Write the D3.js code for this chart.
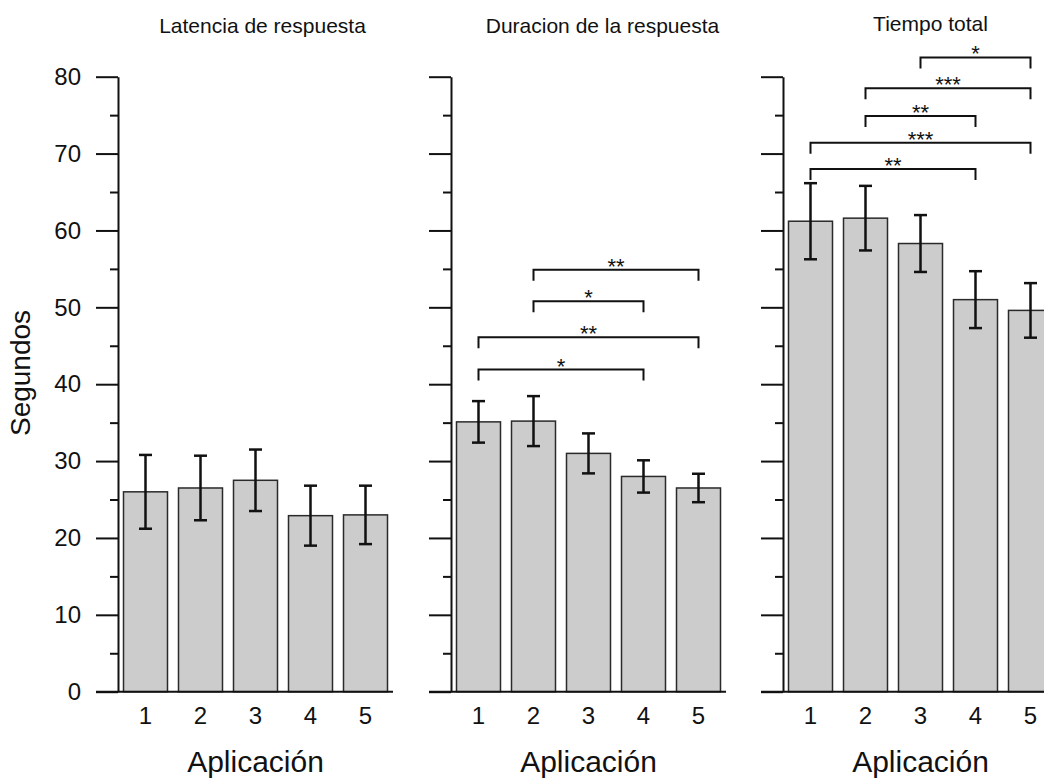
<!DOCTYPE html>
<html>
<head>
<meta charset="utf-8">
<script src="https://cdn.jsdelivr.net/npm/d3@7"></script>
<style>
	body { margin: 0; background: #fff; }
	svg { font-family: "Liberation Sans", Arial, sans-serif; }
</style>
</head>
<body>
<div id="chart"></div>
<script>
'use strict';

// Data
var categories = ["1", "2", "3", "4", "5"];
var yTicks = [0, 10, 20, 30, 40, 50, 60, 70, 80];
var yMinorTicks = [5, 15, 25, 35, 45, 55, 65, 75];

var titles = ["Latencia de respuesta", "Duracion de la respuesta", "Tiempo total"];

var latenciaMean = [26.0, 26.5, 27.5, 22.9, 23.0];
var latenciaErr = [4.8, 4.2, 4.0, 3.9, 3.8];

var duracionMean = [35.1, 35.2, 31.0, 28.0, 26.5];
var duracionErr = [2.7, 3.25, 2.6, 2.1, 1.85];

var totalMean = [61.2, 61.6, 58.3, 51.0, 49.6];
var totalErr = [4.95, 4.2, 3.7, 3.7, 3.55];

// significance brackets: [from, to, level, label]
var latenciaSig = [];
var duracionSig = [
	["2", "5", 54.9, "**"],
	["2", "4", 50.8, "*"],
	["1", "5", 46.1, "**"],
	["1", "4", 41.9, "*"]
];
var totalSig = [
	["3", "5", 82.5, "*"],
	["2", "5", 78.5, "***"],
	["2", "4", 74.9, "**"],
	["1", "5", 71.4, "***"],
	["1", "4", 68.0, "**"]
];

var panels = [
	{ mean: latenciaMean, err: latenciaErr, sig: latenciaSig },
	{ mean: duracionMean, err: duracionErr, sig: duracionSig },
	{ mean: totalMean, err: totalErr, sig: totalSig }
];

// Layout
var width = 1044;
var height = 778;
var panelLeft = [118, 451, 783];
var panelWidth = 275;
var titleShift = [7, 14, 10];
var titleY = [33, 33, 31];

var y = d3.scaleLinear()
	.domain([0, 80])
	.range([691.7, 76.7]);

var svg = d3.select("#chart")
	.append("svg")
	.attr("width", width)
	.attr("height", height);

// y axis label
svg.append("text")
	.attr("transform", "translate(30," + 373 + ") rotate(-90)")
	.attr("text-anchor", "middle")
	.style("font-size", "28px")
	.style("fill", "#111")
	.text("Segundos");

panels.forEach(function (p, k) {

	var x = d3.scaleBand()
		.domain(categories)
		.range([0, panelWidth])
		.paddingInner(0.2)
		.paddingOuter(0.1);

	var g = svg.append("g")
		.attr("transform", "translate(" + panelLeft[k] + ",0)");

	// title
	g.append("text")
		.attr("x", panelWidth / 2 + titleShift[k])
		.attr("y", titleY[k])
		.attr("text-anchor", "middle")
		.style("font-size", "21px")
		.style("fill", "#111")
		.text(titles[k]);

	// bars
	g.selectAll("rect.bar")
		.data(categories)
		.enter()
		.append("rect")
		.attr("class", "bar")
		.attr("x", function (d) { return x(d); })
		.attr("width", x.bandwidth())
		.attr("y", function (d, i) { return y(p.mean[i]); })
		.attr("height", function (d, i) { return y(0) - y(p.mean[i]); })
		.style("fill", "#cccccc")
		.style("stroke", "#2a2a2a")
		.style("stroke-width", 1.5);

	// error bars
	var eb = g.selectAll("g.err")
		.data(categories)
		.enter()
		.append("g")
		.attr("class", "err")
		.attr("transform", function (d) { return "translate(" + (x(d) + x.bandwidth() / 2) + ",0)"; })
		.style("stroke", "#111")
		.style("stroke-width", 2.5);

	eb.append("line")
		.attr("y1", function (d, i) { return y(p.mean[i] - p.err[i]); })
		.attr("y2", function (d, i) { return y(p.mean[i] + p.err[i]); });
	eb.append("line")
		.attr("x1", -6.5).attr("x2", 6.5)
		.attr("y1", function (d, i) { return y(p.mean[i] + p.err[i]); })
		.attr("y2", function (d, i) { return y(p.mean[i] + p.err[i]); });
	eb.append("line")
		.attr("x1", -6.5).attr("x2", 6.5)
		.attr("y1", function (d, i) { return y(p.mean[i] - p.err[i]); })
		.attr("y2", function (d, i) { return y(p.mean[i] - p.err[i]); });

	// y axis, major and minor ticks
	var yAxis = d3.axisLeft(y)
		.tickValues(yTicks)
		.tickSize(22)
		.tickSizeOuter(0)
		.tickPadding(15)
		.tickFormat(k === 0 ? d3.format("d") : "");

	var ya = g.append("g").call(yAxis);
	ya.selectAll("text").style("font-size", "24px").style("fill", "#111");
	ya.selectAll("line, path").style("stroke", "#111").style("stroke-width", 2);

	var ym = g.append("g").call(d3.axisLeft(y).tickValues(yMinorTicks).tickSize(8).tickFormat(""));
	ym.select(".domain").remove();
	ym.selectAll("line").style("stroke", "#111").style("stroke-width", 2);

	// x axis
	var xa = g.append("g")
		.attr("transform", "translate(0," + y(0) + ")")
		.call(d3.axisBottom(x).tickSize(0).tickPadding(15));
	xa.select(".domain").remove();
	xa.selectAll("text").style("font-size", "24px").style("fill", "#111");

	g.append("line")
		.attr("x1", -22)
		.attr("x2", panelWidth)
		.attr("y1", y(0))
		.attr("y2", y(0))
		.style("stroke", "#111")
		.style("stroke-width", 2);

	g.append("text")
		.attr("x", panelWidth / 2)
		.attr("y", 771.5)
		.attr("text-anchor", "middle")
		.style("font-size", "30px")
		.style("fill", "#111")
		.text("Aplicación");

	// significance brackets
	var cx = function (c) { return x(c) + x.bandwidth() / 2; };
	var br = g.selectAll("g.sig")
		.data(p.sig)
		.enter()
		.append("g")
		.attr("class", "sig");

	br.append("path")
		.attr("d", function (s) {
			var ly = y(s[2]);
			return "M" + cx(s[0]) + "," + (ly + 11) + "V" + ly + "H" + cx(s[1]) + "V" + (ly + 11);
		})
		.style("fill", "none")
		.style("stroke", "#111")
		.style("stroke-width", 2);

	br.append("text")
		.attr("x", function (s) { return (cx(s[0]) + cx(s[1])) / 2; })
		.attr("y", function (s) { return y(s[2]) + 4; })
		.attr("text-anchor", "middle")
		.style("font-size", "22px")
		.style("fill", "#111")
		.text(function (s) { return s[3]; });
});
</script>
</body>
</html>
